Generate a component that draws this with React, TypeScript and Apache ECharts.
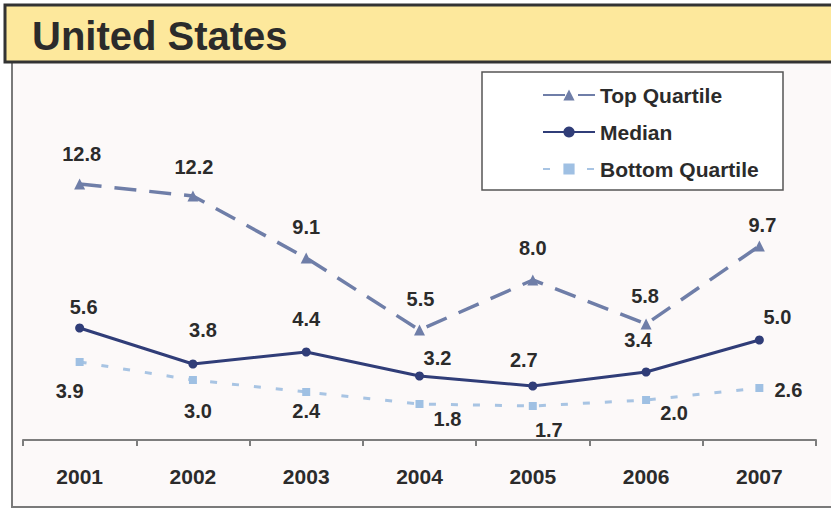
import React, { useEffect, useRef } from "react";
import * as echarts from "echarts";

const years = ["2001", "2002", "2003", "2004", "2005", "2006", "2007"];
const topQuartile = [12.8, 12.2, 9.1, 5.5, 8.0, 5.8, 9.7];
const median = [5.6, 3.8, 4.4, 3.2, 2.7, 3.4, 5.0];
const bottomQuartile = [3.9, 3.0, 2.4, 1.8, 1.7, 2.0, 2.6];
const seriesNames = ["Top Quartile", "Median", "Bottom Quartile"];
const titleText = "United States";

// label offsets (layout only) relative to each point
const topOffsets = [[2, -30], [1, -29], [0, -31], [1, -31], [0, -32], [-1, -28], [3, -21]];
const medianOffsets = [[4, -21], [10, -34], [0, -33], [18, -18], [-9, -26], [-8, -32], [18, -23]];
const bottomOffsets = [[-10, 29], [5, 31], [0, 19], [28, 15], [16, 24], [28, 13], [29, 2]];

const FONT = "'Liberation Sans', Arial, Helvetica, sans-serif";
const TEXT = "#2b2b2b";

function withLabels(values: number[], offsets: number[][]) {
  return values.map((v, i) => ({
    value: v,
    label: { offset: offsets[i] },
  }));
}

export default function App() {
  const ref = useRef<HTMLDivElement>(null);
  useEffect(() => {
    if (!ref.current) return;
    const chart = echarts.init(ref.current, null, { renderer: "svg" });
    const labelBase = {
      show: true,
      position: "inside" as const,
      color: TEXT,
      fontSize: 20,
      fontWeight: "bold" as const,
      fontFamily: FONT,
      formatter: (p: any) => Number(p.value).toFixed(1),
    };
    chart.setOption({
      animation: false,
      backgroundColor: "#ffffff",
      graphic: [
        {
          type: "rect",
          shape: { x: 12, y: 62, width: 830, height: 445 },
          style: { fill: "#fcf9f9", stroke: "#7a7a7a", lineWidth: 2 },
          z: -10,
        },
        {
          type: "rect",
          shape: { x: 5, y: 5, width: 840, height: 57 },
          style: { fill: "#fde89c", stroke: "#333333", lineWidth: 3 },
          z: 1,
        },
        {
          type: "text",
          x: 32,
          y: 36,
          style: {
            text: titleText,
            font: `bold 40px ${FONT}`,
            fill: TEXT,
            verticalAlign: "middle",
          },
          z: 2,
        },
        {
          type: "rect",
          shape: { x: 482, y: 72, width: 301, height: 118 },
          style: { fill: "#ffffff", stroke: "#555555", lineWidth: 1.5 },
          z: 0,
        },
      ],
      legend: {
        data: seriesNames,
        orient: "vertical",
        left: 542,
        top: 83,
        padding: 0,
        itemWidth: 52,
        itemHeight: 14,
        itemGap: 13,
        z: 5,
        textStyle: {
          color: TEXT,
          fontSize: 21,
          fontWeight: "bold",
          fontFamily: FONT,
          lineHeight: 24,
          padding: [0, 0, 0, 0],
        },
      },
      grid: { left: 23, right: 15, top: 140, bottom: 69 },
      xAxis: {
        type: "category",
        data: years,
        boundaryGap: true,
        axisLine: { lineStyle: { color: "#7d7d7d", width: 2 } },
        axisTick: { show: true, length: 6, lineStyle: { color: "#7d7d7d", width: 2 } },
        axisLabel: {
          color: TEXT,
          fontSize: 21,
          fontWeight: "bold",
          fontFamily: FONT,
          margin: 26,
        },
      },
      yAxis: {
        type: "value",
        min: 0,
        max: 15,
        show: false,
        splitLine: { show: false },
      },
      series: [
        {
          name: seriesNames[0],
          type: "line",
          data: withLabels(topQuartile, topOffsets),
          symbol: "triangle",
          symbolSize: 11,
          itemStyle: { color: "#6f7ea8" },
          lineStyle: { color: "#6f7ea8", width: 3.5, type: [22, 13] },
          label: labelBase,
          z: 3,
        },
        {
          name: seriesNames[1],
          type: "line",
          data: withLabels(median, medianOffsets),
          symbol: "circle",
          symbolSize: 9,
          itemStyle: { color: "#303d78" },
          lineStyle: { color: "#303d78", width: 3 },
          label: labelBase,
          z: 4,
        },
        {
          name: seriesNames[2],
          type: "line",
          data: withLabels(bottomQuartile, bottomOffsets),
          symbol: "rect",
          symbolSize: 8,
          itemStyle: { color: "#9fc0e3" },
          lineStyle: { color: "#a8c4e3", width: 3, type: [7, 15] },
          label: labelBase,
          z: 2,
        },
      ],
    });
    return () => chart.dispose();
  }, []);
  return (
    <div
      ref={ref}
      style={{ position: "fixed", left: 0, top: 0, width: 831, height: 509 }}
    />
  );
}
